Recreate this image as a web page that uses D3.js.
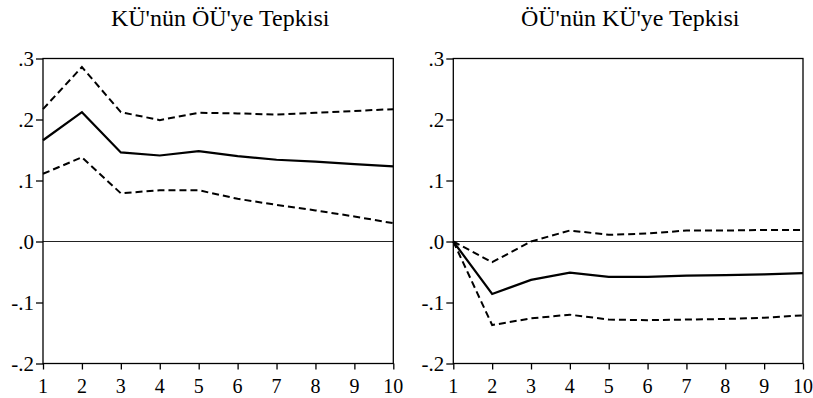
<!DOCTYPE html>
<html><head><meta charset="utf-8">
<script src="https://cdn.jsdelivr.net/npm/d3@7"></script>
</head><body style="margin:0">
<script>
const periods = [1,2,3,4,5,6,7,8,9,10];
const yTicks = [0.3,0.2,0.1,0.0,-0.1,-0.2];
const yTickLabels = [".3",".2",".1",".0","-.1","-.2"];
const titles = ["KÜ'nün ÖÜ'ye Tepkisi","ÖÜ'nün KÜ'ye Tepkisi"];

const kuResp  = [0.166,0.212,0.146,0.141,0.148,0.140,0.134,0.131,0.127,0.123];
const kuUpper = [0.217,0.286,0.212,0.199,0.211,0.210,0.208,0.211,0.214,0.217];
const kuLower = [0.111,0.138,0.079,0.084,0.084,0.070,0.060,0.051,0.041,0.030];

const ouResp  = [0,-0.086,-0.063,-0.051,-0.058,-0.058,-0.056,-0.055,-0.054,-0.052];
const ouUpper = [0,-0.034,0.000,0.018,0.011,0.013,0.018,0.018,0.019,0.019];
const ouLower = [0,-0.137,-0.126,-0.120,-0.128,-0.129,-0.128,-0.127,-0.125,-0.121];

const panels = [
  {title: titles[0], resp: kuResp, upper: kuUpper, lower: kuLower, x0: 43, x1: 393.3},
  {title: titles[1], resp: ouResp, upper: ouUpper, lower: ouLower, x0: 453.3, x1: 803}
];

const W = 813, H = 398;
const plotTop = 58.5, plotBottom = 363.5;
const FONT = "Liberation Serif";
const svg = d3.select("body").append("svg").attr("width", W).attr("height", H);

const y = d3.scaleLinear().domain([-0.2, 0.3]).range([plotBottom, plotTop]);

panels.forEach(p => {
  const x = d3.scaleLinear().domain([1, 10]).range([p.x0, p.x1]);
  const g = svg.append("g");

  g.append("line").attr("x1", p.x0).attr("x2", p.x1)
    .attr("y1", y(0)).attr("y2", y(0)).attr("stroke", "#222").attr("stroke-width", 1);

  const line = d3.line().x((d,i) => x(periods[i])).y(d => y(d));
  g.append("path").datum(p.upper).attr("d", line).attr("fill","none")
    .attr("stroke","#000").attr("stroke-width",2).attr("stroke-dasharray","7,4");
  g.append("path").datum(p.lower).attr("d", line).attr("fill","none")
    .attr("stroke","#000").attr("stroke-width",2).attr("stroke-dasharray","7,4");
  g.append("path").datum(p.resp).attr("d", line).attr("fill","none")
    .attr("stroke","#000").attr("stroke-width",2.2);

  g.append("rect").attr("x", p.x0).attr("y", plotTop)
    .attr("width", p.x1 - p.x0).attr("height", plotBottom - plotTop)
    .attr("fill","none").attr("stroke","#000").attr("stroke-width",1.3);

  // tick marks via d3 axes (labels drawn separately as plain text)
  const ya = d3.axisLeft(y).tickValues(yTicks).tickSize(7).tickFormat(() => "");
  const yg = g.append("g").attr("transform", `translate(${p.x0},0)`).call(ya);
  yg.select(".domain").remove();
  yg.selectAll("text").remove();
  yg.selectAll("line").attr("stroke","#000").attr("stroke-width",1.3);

  const xa = d3.axisBottom(x).tickValues(periods).tickSize(6).tickFormat(() => "");
  const xg = g.append("g").attr("transform", `translate(0,${plotBottom})`).call(xa);
  xg.select(".domain").remove();
  xg.selectAll("text").remove();
  xg.selectAll("line").attr("stroke","#000").attr("stroke-width",1.3);

  // y tick labels as plain svg-level text
  yTicks.forEach((v, i) => {
    svg.append("text").attr("x", p.x0 - 9).attr("y", y(v) + 7)
      .attr("text-anchor", "end").attr("font-family", FONT).attr("font-size", 21)
      .attr("fill", "#000").text(yTickLabels[i]);
  });
  // x tick labels
  periods.forEach(d => {
    svg.append("text").attr("x", x(d)).attr("y", 393)
      .attr("text-anchor", "middle").attr("font-family", FONT).attr("font-size", 20)
      .attr("fill", "#000").text(String(d));
  });
  // title
  svg.append("text").attr("x", (p.x0 + p.x1) / 2 + 2).attr("y", 26)
    .attr("text-anchor","middle").attr("font-family", FONT).attr("font-size", 24)
    .attr("fill","#000").text(p.title);
});
</script>
</body></html>
